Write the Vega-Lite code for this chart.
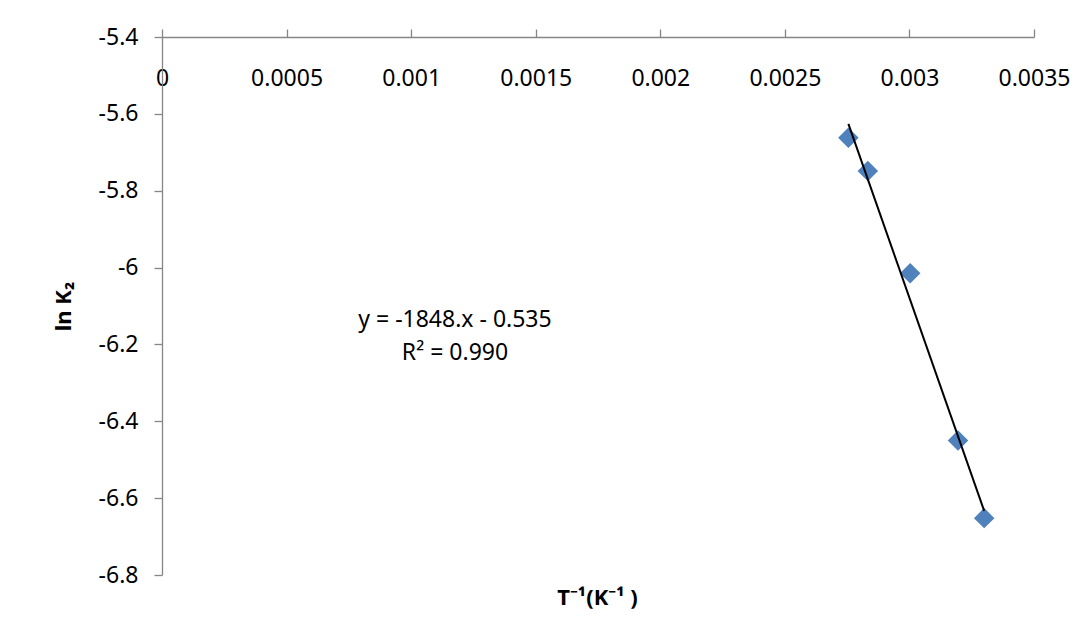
{
  "$schema": "https://vega.github.io/schema/vega-lite/v6.json",
  "width": 872,
  "height": 538,
  "autosize": {"type": "none"},
  "padding": {"left": 162, "top": 37, "right": 56, "bottom": 68},
  "background": "white",
  "config": {
    "view": {"stroke": null},
    "font": "Noto Sans",
    "axis": {
      "domainColor": "#868686",
      "tickColor": "#868686",
      "domainWidth": 1.3,
      "tickWidth": 1.3,
      "tickSize": 8,
      "grid": false,
      "labelColor": "#000000",
      "labelFont": "Noto Sans",
      "labelFontSize": 23,
      "titleColor": "#000000",
      "titleFont": "Noto Sans",
      "titleFontSize": 22,
      "titleFontWeight": "bold"
    }
  },
  "datasets": {
    "points": [
      {"invT": 0.002755, "lnK2": -5.662},
      {"invT": 0.002833, "lnK2": -5.749},
      {"invT": 0.003003, "lnK2": -6.015},
      {"invT": 0.003195, "lnK2": -6.450},
      {"invT": 0.0033, "lnK2": -6.652}
    ],
    "trend": [
      {"invT": 0.002755, "lnK2": -5.626},
      {"invT": 0.0033, "lnK2": -6.633}
    ],
    "fit": [
      {"invT": 0.001176, "lnK2": -6.136, "label": ["y = -1848.x - 0.535", "R² = 0.990"]}
    ]
  },
  "encoding": {
    "x": {
      "field": "invT",
      "type": "quantitative",
      "scale": {"domain": [0, 0.0035], "nice": false, "zero": false},
      "axis": {
        "orient": "top",
        "values": [0, 0.0005, 0.001, 0.0015, 0.002, 0.0025, 0.003, 0.0035],
        "labelExpr": "toString(datum.value)",
        "labelBaseline": "middle",
        "labelPadding": -49,
        "labelFlush": false,
        "labelOverlap": false,
        "title": "T⁻¹(K⁻¹ )",
        "titleX": 435,
        "titleY": 560,
        "titleBaseline": "middle",
        "titleAlign": "center",
        "titleAnchor": null
      }
    },
    "y": {
      "field": "lnK2",
      "type": "quantitative",
      "scale": {"domain": [-6.8, -5.4], "nice": false, "zero": false},
      "axis": {
        "orient": "left",
        "values": [-5.4, -5.6, -5.8, -6, -6.2, -6.4, -6.6, -6.8],
        "labelExpr": "toString(datum.value)",
        "labelPadding": 16,
        "labelFlush": false,
        "labelOverlap": false,
        "title": "ln K₂",
        "titleX": -99,
        "titleY": 269,
        "titleAngle": -90,
        "titleBaseline": "middle",
        "titleAlign": "center"
      }
    }
  },
  "layer": [
    {
      "data": {"name": "points"},
      "mark": {"type": "point", "shape": "diamond", "filled": true, "size": 420, "color": "#4F81BD", "opacity": 1}
    },
    {
      "data": {"name": "trend"},
      "mark": {"type": "line", "color": "#000000", "strokeWidth": 2}
    },
    {
      "data": {"name": "fit"},
      "mark": {"type": "text", "font": "Noto Sans", "fontSize": 23, "align": "center", "baseline": "middle", "lineHeight": 33, "color": "#000000"},
      "encoding": {"text": {"field": "label"}}
    }
  ]
}
